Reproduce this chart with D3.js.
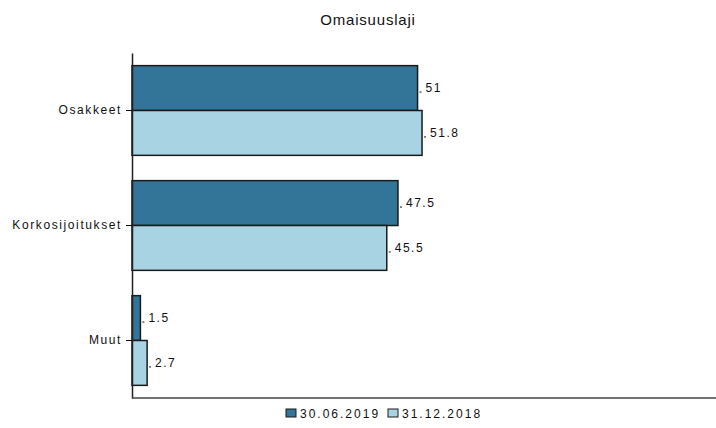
<!DOCTYPE html>
<html>
<head>
<meta charset="utf-8">
<script src="https://cdn.jsdelivr.net/npm/d3@7"></script>
<style>
  body { margin: 0; background: #fff; }
  svg text { font-family: "Liberation Sans", Arial, sans-serif; fill: #111; }
</style>
</head>
<body>
<div id="chart"></div>
<script>
// data
var categories = ["Osakkeet", "Korkosijoitukset", "Muut"];
var seriesNames = ["30.06.2019", "31.12.2018"];
var series2019 = [51, 47.5, 1.5];
var series2018 = [51.8, 45.5, 2.7];
var colors = ["#337599", "#a8d3e2"];

var width = 716, height = 428;
var margin = {top: 53, right: 0, bottom: 30, left: 132};

var svg = d3.select("#chart").append("svg")
    .attr("width", width)
    .attr("height", height);

var rows = categories.map(function(c, i) {
    return {cat: c, values: [series2019[i], series2018[i]]};
});

var y = d3.scaleBand()
    .domain(categories)
    .range([margin.top, height - margin.bottom])
    .paddingInner(0.22)
    .paddingOuter(0.11);

var ySub = d3.scaleBand()
    .domain([0, 1])
    .range([0, y.bandwidth()]);

var x = d3.scaleLinear()
    .domain([0, 104.3])
    .range([margin.left, width]);

// title
svg.append("text")
    .attr("x", 368)
    .attr("y", 25)
    .attr("text-anchor", "middle")
    .style("font-size", "15px")
    .style("letter-spacing", "0.8px")
    .attr("fill", "#222")
    .text("Omaisuuslaji");

// bars
var groups = svg.selectAll(".grp")
    .data(rows)
    .enter().append("g")
    .attr("class", "grp")
    .attr("transform", function(d) { return "translate(0," + y(d.cat) + ")"; });

groups.selectAll("rect")
    .data(function(d) { return d.values; })
    .enter().append("rect")
    .attr("x", x(0))
    .attr("y", function(d, i) { return ySub(i); })
    .attr("width", function(d) { return x(d) - x(0); })
    .attr("height", ySub.bandwidth())
    .attr("fill", function(d, i) { return colors[i]; })
    .attr("stroke", "#1a1a1a")
    .attr("stroke-width", 1.5);

// value labels with small tick
groups.selectAll(".vtick")
    .data(function(d) { return d.values; })
    .enter().append("line")
    .attr("class", "vtick")
    .attr("x1", function(d) { return x(d) + 2; })
    .attr("x2", function(d) { return x(d) + 4; })
    .attr("y1", function(d, i) { return ySub(i) + ySub.bandwidth() / 2 + 4; })
    .attr("y2", function(d, i) { return ySub(i) + ySub.bandwidth() / 2 + 4; })
    .attr("stroke", "#111");

groups.selectAll(".vlab")
    .data(function(d) { return d.values; })
    .enter().append("text")
    .attr("class", "vlab")
    .attr("x", function(d) { return x(d) + 8; })
    .attr("y", function(d, i) { return ySub(i) + ySub.bandwidth() / 2 + 4; })
    .style("font-size", "12px")
    .style("letter-spacing", "1.5px")
    .text(function(d) { return d; });

// axes
var yAxis = svg.append("g")
    .attr("transform", "translate(" + margin.left + ",0)")
    .call(d3.axisLeft(y).tickSize(6).tickSizeOuter(0));
yAxis.select(".domain").attr("stroke", "#222").attr("stroke-width", 1.5);
yAxis.selectAll(".tick line").attr("stroke", "#111");
yAxis.selectAll(".tick text")
    .attr("x", -10)
    .style("font-size", "12px")
    .style("letter-spacing", "1.6px")
    .style("font-family", "Liberation Sans, Arial, sans-serif")
    .attr("fill", "#111");

svg.append("line")
    .attr("x1", margin.left)
    .attr("x2", width)
    .attr("y1", height - margin.bottom)
    .attr("y2", height - margin.bottom)
    .attr("stroke", "#444")
    .attr("stroke-width", 1.5);

// legend
var legend = svg.append("g").attr("transform", "translate(286,418)");
var legX = [0, 102];
seriesNames.forEach(function(name, i) {
    legend.append("rect")
        .attr("x", legX[i])
        .attr("y", -9)
        .attr("width", 10)
        .attr("height", 8)
        .attr("fill", colors[i])
        .attr("stroke", "#1a1a1a");
    legend.append("text")
        .attr("x", legX[i] + 14)
        .attr("y", 0)
        .style("font-size", "12px")
        .style("letter-spacing", "2px")
        .text(name);
});
</script>
</body>
</html>
